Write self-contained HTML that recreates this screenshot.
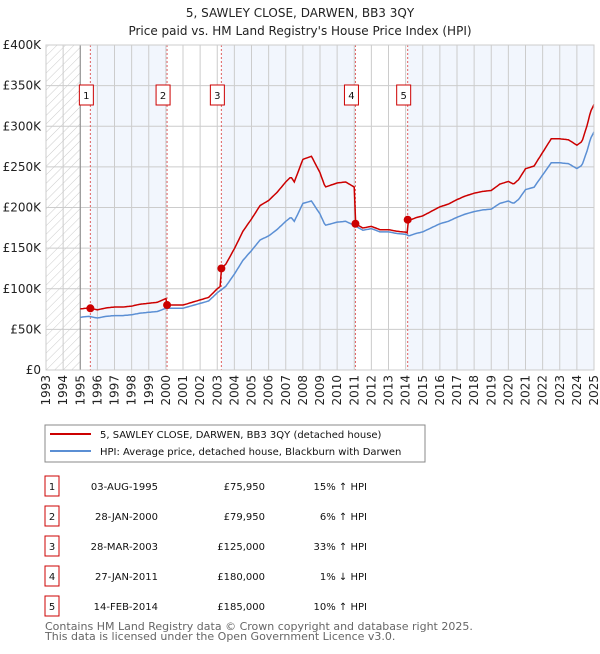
<!DOCTYPE html>
<html><head><meta charset="utf-8"><style>
body{margin:0;background:#fff;width:600px;height:650px;overflow:hidden;font-family:"DejaVu Sans","Liberation Sans",sans-serif}
svg text{font-family:"DejaVu Sans","Liberation Sans",sans-serif}
</style></head><body>
<svg id="c" width="600" height="650" xmlns="http://www.w3.org/2000/svg">
<defs><pattern id="hatch" width="6" height="6" patternUnits="userSpaceOnUse" patternTransform="rotate(45)"><line x1="0" y1="0" x2="0" y2="6" stroke="#ccc" stroke-width="1"/></pattern></defs>
<text x="300" y="17" text-anchor="middle" font-size="12" fill="#222">5, SAWLEY CLOSE, DARWEN, BB3 3QY</text>
<text x="300" y="35" text-anchor="middle" font-size="12" fill="#222">Price paid vs. HM Land Registry's House Price Index (HPI)</text>
<g id="plot"></g>
<rect x="45" y="425" width="380" height="37" fill="#fff" stroke="#888"/>
<line x1="50" y1="434" x2="91" y2="434" stroke="#cc0000" stroke-width="2"/>
<text x="100" y="438" font-size="10" fill="#111">5, SAWLEY CLOSE, DARWEN, BB3 3QY (detached house)</text>
<line x1="50" y1="451" x2="91" y2="451" stroke="#5b8fd4" stroke-width="2"/>
<text x="100" y="455" font-size="10" fill="#111">HPI: Average price, detached house, Blackburn with Darwen</text>
<g id="table" font-size="10" fill="#111"></g>
<text x="45" y="630" font-size="11" fill="#666">Contains HM Land Registry data © Crown copyright and database right 2025.</text>
<text x="45" y="640" font-size="11" fill="#666">This data is licensed under the Open Government Licence v3.0.</text>
</svg>
<script>
const hpiYears=[1995,1995.5,1996,1996.5,1997,1997.5,1998,1998.5,1999,1999.5,2000,2000.5,2001,2001.5,2002,2002.5,2003,2003.5,2004,2004.5,2005,2005.5,2006,2006.5,2007,2007.3,2007.5,2008,2008.5,2009,2009.3,2010,2010.5,2011,2011.5,2012,2012.5,2013,2013.5,2014,2014.2,2014.6,2015,2015.5,2016,2016.5,2017,2017.5,2018,2018.5,2019,2019.5,2020,2020.3,2020.6,2021,2021.5,2022,2022.5,2023,2023.5,2024,2024.3,2024.6,2024.8,2025];
const hpiValues=[65000,66000,64000,66000,67000,67000,68000,70000,71000,72000,76000,76000,76000,79000,82000,85000,95000,103000,118000,135000,147000,160000,165000,173000,183000,188000,183000,205000,208000,192000,178000,182000,183000,178000,172000,174000,170000,170000,168000,167000,165000,168000,170000,175000,180000,183000,188000,192000,195000,197000,198000,205000,208000,205000,210000,222000,225000,240000,255000,255000,254000,248000,252000,270000,285000,293000];
const saleDates=[1995.59,2000.07,2003.24,2011.07,2014.12];
const salePrices=[75950,79950,125000,180000,185000];
const saleLabels=["1","2","3","4","5"];
const saleDateText=["03-AUG-1995","28-JAN-2000","28-MAR-2003","27-JAN-2011","14-FEB-2014"];
const salePriceText=["£75,950","£79,950","£125,000","£180,000","£185,000"];
const saleHpiText=["15% ↑ HPI","6% ↑ HPI","33% ↑ HPI","1% ↓ HPI","10% ↑ HPI"];
const yTicks=[0,50000,100000,150000,200000,250000,300000,350000,400000];
const yTickLabels=["£0","£50K","£100K","£150K","£200K","£250K","£300K","£350K","£400K"];
const xTicks=[1993,1994,1995,1996,1997,1998,1999,2000,2001,2002,2003,2004,2005,2006,2007,2008,2009,2010,2011,2012,2013,2014,2015,2016,2017,2018,2019,2020,2021,2022,2023,2024,2025];

const NS="http://www.w3.org/2000/svg";
const L=46,R=594,T=45,B=370;
const xs=t=>L+(t-1993)/(2025-1993)*(R-L);
const ys=v=>B-v/400000*(B-T);
function mk(tag,attrs,parent){const e=document.createElementNS(NS,tag);for(const k in attrs)e.setAttribute(k,attrs[k]);parent.appendChild(e);return e;}
const P=document.getElementById('plot');
function hpiAt(t){if(t<=hpiYears[0])return hpiValues[0];for(let i=1;i<hpiYears.length;i++){if(t<=hpiYears[i]){const f=(t-hpiYears[i-1])/(hpiYears[i]-hpiYears[i-1]);return hpiValues[i-1]+f*(hpiValues[i]-hpiValues[i-1]);}}return hpiValues[hpiValues.length-1];}

for(let i=0;i<saleDates.length;i++){
  const a=saleDates[i],b=(i+1<saleDates.length)?saleDates[i+1]:2025;
  if(i%2===0){const r=mk('rect',{x:xs(a),y:T,width:xs(b)-xs(a),height:B-T,fill:'#f2f6fd'},P);
  
  }
}
const h=mk('rect',{x:xs(1993),y:T,width:xs(1995)-xs(1993),height:B-T,fill:'url(#hatch)'},P);


xTicks.forEach(t=>{const g=mk('line',{x1:xs(t),x2:xs(t),y1:T,y2:B,stroke:'#ccc','stroke-width':1},P);


const tx=mk('text',{x:0,y:0,'font-size':12,fill:'#222','text-anchor':'end',transform:`translate(${xs(t)+4},${B+5}) rotate(-90)`},P);tx.textContent=t;

});
yTicks.forEach((v,i)=>{const g=mk('line',{x1:L,x2:R,y1:ys(v),y2:ys(v),stroke:'#ccc','stroke-width':1},P);


const tx=mk('text',{x:L-5,y:ys(v)+4,'font-size':12,fill:'#222','text-anchor':'end'},P);tx.textContent=yTickLabels[i];

});
const ax=mk('line',{x1:xs(1995),x2:xs(1995),y1:T,y2:B,stroke:'#888','stroke-width':1},P);


saleDates.forEach((d,i)=>{const l=mk('line',{x1:xs(d),x2:xs(d),y1:T,y2:B,stroke:'#e06060','stroke-width':1,'stroke-dasharray':'2,2'},P);

});
let hp='',rp='';
for(let t=1995;t<=2025.0001;t+=1/12){
  const v=hpiAt(t);hp+=(hp?'L':'M')+xs(t).toFixed(1)+','+ys(v).toFixed(1);
  let k=0;for(let i=0;i<saleDates.length;i++)if(saleDates[i]<=t)k=i;
  const rv=salePrices[k]*v/hpiAt(saleDates[k]);
  rp+=(rp?'L':'M')+xs(t).toFixed(1)+','+ys(rv).toFixed(1);
}
const hl=mk('path',{d:hp,fill:'none',stroke:'#5b8fd4','stroke-width':1.5},P);


const rl=mk('path',{d:rp,fill:'none',stroke:'#cc0000','stroke-width':1.5},P);


saleDates.forEach((d,i)=>{const c=mk('circle',{cx:xs(d),cy:ys(salePrices[i]),r:4,fill:'#cc0000'},P);


const bx=mk('rect',{x:xs(d)-11,y:85,width:14,height:20,fill:'#fff',stroke:'#cc0000'},P);


const tx=mk('text',{x:xs(d)-4,y:99,'font-size':10,fill:'#111','text-anchor':'middle'},P);tx.textContent=saleLabels[i];

});
const fr=mk('rect',{x:L,y:T,width:R-L,height:B-T,fill:'none',stroke:'#ccc'},P);


const TB=document.getElementById('table');
saleDates.forEach((d,i)=>{const y=483+i*30;
const b=mk('rect',{x:45,y:y-7,width:14,height:20,fill:'#fff',stroke:'#cc0000'},TB);


const cells=[[52,'middle',saleLabels[i]],[158,'end',saleDateText[i]],[265,'end',salePriceText[i]],[367,'end',saleHpiText[i]]];
const names=['table-row-number','table-date','table-price','table-hpi-change'];
cells.forEach((c,j)=>{const t=mk('text',{x:c[0],y:y+7,'text-anchor':c[1],'font-size':10,fill:'#111'},TB);t.textContent=c[2];

});});
</script>
</body></html>
